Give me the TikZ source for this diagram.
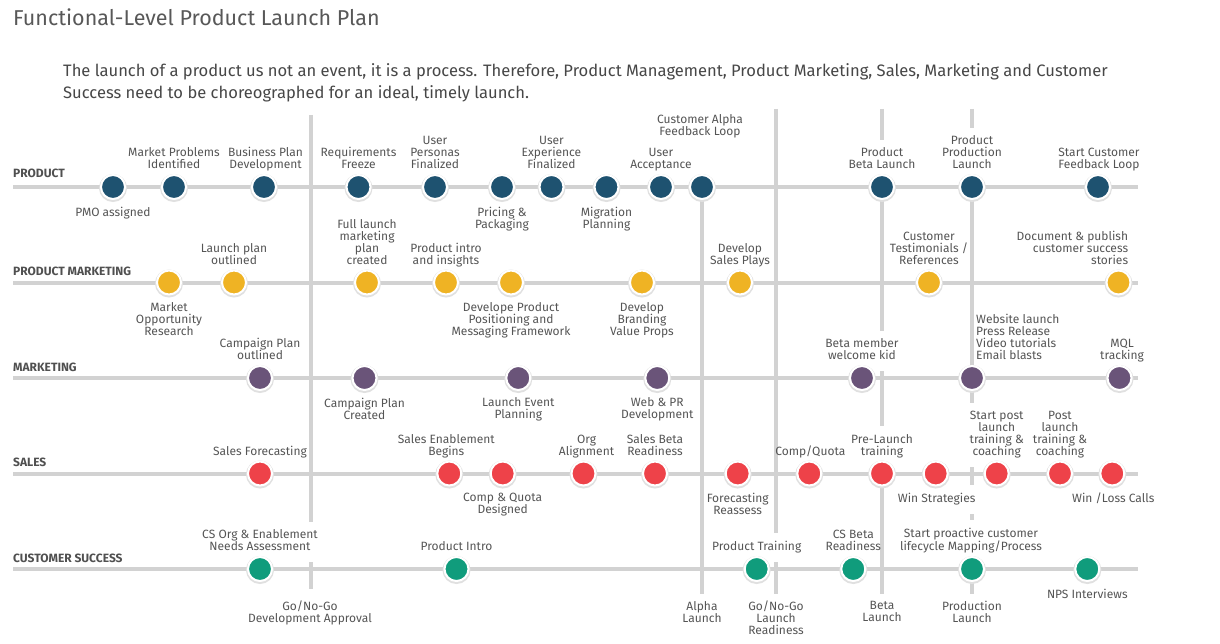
\documentclass[tikz,border=0pt]{standalone}
\usepackage{fontspec}
\setmainfont{Fira Sans}
\definecolor{prodc}{HTML}{1E5270}
\definecolor{pmc}{HTML}{EFB324}
\definecolor{mktc}{HTML}{6A5479}
\definecolor{salc}{HTML}{EE4249}
\definecolor{csc}{HTML}{109C7C}
\definecolor{lanec}{HTML}{D2D2D2}
\definecolor{labc}{HTML}{555555}
\definecolor{titc}{HTML}{585858}
\definecolor{subc}{HTML}{474747}
\definecolor{rowc}{HTML}{505050}
\newcommand{\labfont}{\fontsize{12}{12}\selectfont}
\begin{document}
\begin{tikzpicture}[x=1pt,y=-1pt,
  lane/.style={draw=lanec, line width=4pt},
  mile/.style={circle, minimum size=24pt, inner sep=0pt, line width=2pt, draw=white, fill=#1,
    preaction={draw=black!12, line width=4pt, transform canvas={yshift=-1pt}}},
  txt/.style={font=\labfont, text=labc, align=center, inner xsep=2pt, inner ysep=4pt,
    execute at begin node=\strut, execute at end node=\strut},
  gap/.style={fill=white, inner ysep=8pt},
  rowlab/.style={font=\fontsize{12}{14}\selectfont\bfseries, text=rowc, anchor=base west, inner sep=0pt},
]
\fill[white] (0,0) rectangle (1220,644);
\useasboundingbox (0,0) rectangle (1220,644);

% ---------- milestone coordinates ----------
\coordinate (p1) at (113,187);   \coordinate (p2) at (174,187);   \coordinate (p3) at (264,187);
\coordinate (p4) at (358.5,187); \coordinate (p5) at (435,187);   \coordinate (p6) at (502,187);
\coordinate (p7) at (551.5,187); \coordinate (p8) at (606.5,187); \coordinate (p9) at (661,187);
\coordinate (p10) at (702,187);  \coordinate (p11) at (882,187);  \coordinate (p12) at (972,187);
\coordinate (p13) at (1098,187);
\coordinate (q1) at (169,282.5); \coordinate (q2) at (234,282.5); \coordinate (q3) at (367,282.5);
\coordinate (q4) at (446,282.5); \coordinate (q5) at (511,282.5); \coordinate (q6) at (642,282.5);
\coordinate (q7) at (740,282.5); \coordinate (q8) at (929,282.5); \coordinate (q9) at (1118.5,282.5);
\coordinate (r1) at (260,378);   \coordinate (r2) at (364.5,378); \coordinate (r3) at (518.3,378);
\coordinate (r4) at (657.3,378); \coordinate (r5) at (862,378);   \coordinate (r6) at (972,378);
\coordinate (r7) at (1119.5,378);
\coordinate (s1) at (260,473.5);   \coordinate (s2) at (449.3,473.5); \coordinate (s3) at (502.7,473.5);
\coordinate (s4) at (583.5,473.5); \coordinate (s5) at (655,473.5);   \coordinate (s6) at (737.7,473.5);
\coordinate (s7) at (809.3,473.5); \coordinate (s8) at (882,473.5);   \coordinate (s9) at (935.7,473.5);
\coordinate (s10) at (996.7,473.5); \coordinate (s11) at (1060,473.5); \coordinate (s12) at (1112.3,473.5);
\coordinate (c1) at (260,569);   \coordinate (c2) at (456.5,569); \coordinate (c3) at (756.7,569);
\coordinate (c4) at (853.3,569); \coordinate (c5) at (972,569);   \coordinate (c6) at (1087.3,569);

% ---------- lanes ----------
\foreach \y [count=\i] in {187,282.5,378,473.5,569}{
  \coordinate (ls\i) at (13,\y); \coordinate (le\i) at (1138,\y);
  \draw[lane] (ls\i) -- (le\i);
}
% ---------- vertical gates ----------
\coordinate (v1t) at (311,115); \coordinate (v1b) at (311,589);
\coordinate (v2b) at (702,594);
\coordinate (v3t) at (776,109); \coordinate (v3b) at (776,594);
\coordinate (v4t) at (882,109); \coordinate (v4b) at (882,594);
\coordinate (v5t) at (972,109); \coordinate (v5b) at (972,594);
\draw[lane] (v1t) -- (v1b);
\draw[lane] (p10) -- (v2b);
\draw[lane] (v3t) -- (v3b);
\draw[lane] (v4t) -- (v4b);
\draw[lane] (v5t) -- (v5b);

% ---------- labels: product ----------
\node[txt, anchor=north] (lp1) at ([yshift=-15.6pt]p1) {PMO assigned};
\node[txt, anchor=south] (lp2) at ([yshift=10.4pt]p2) {Market Problems\\Identified};
\node[txt, anchor=south] (lp3) at ([xshift=1.5pt,yshift=10.4pt]p3) {Business Plan\\Development};
\node[txt, anchor=south] (lp4) at ([yshift=10.4pt]p4) {Requirements\\Freeze};
\node[txt, anchor=south] (lp5) at ([yshift=10.4pt]p5) {User\\Personas\\Finalized};
\node[txt, anchor=north] (lp6) at ([yshift=-15.6pt]p6) {Pricing \&\\Packaging};
\node[txt, anchor=south] (lp7) at ([yshift=10.4pt]p7) {User\\Experience\\Finalized};
\node[txt, anchor=north] (lp8) at ([yshift=-15.6pt]p8) {Migration\\Planning};
\node[txt, anchor=south] (lp9) at ([yshift=10.4pt]p9) {User\\Acceptance};
\node[txt, anchor=south] (lp10) at ([xshift=-2pt,yshift=43.4pt]p10) {Customer Alpha\\Feedback Loop};
\node[txt, gap, anchor=south] (lp11) at ([yshift=6.4pt]p11) {Product\\Beta Launch};
\node[txt, gap, anchor=south] (lp12) at ([yshift=6.4pt]p12) {Product\\Production\\Launch};
\node[txt, anchor=south] (lp13) at ([xshift=1pt,yshift=10.4pt]p13) {Start Customer\\Feedback Loop};
% ---------- labels: product marketing ----------
\node[txt, anchor=north] (lq1) at ([yshift=-15.6pt]q1) {Market\\Opportunity\\Research};
\node[txt, anchor=south] (lq2) at ([yshift=10.4pt]q2) {Launch plan\\outlined};
\node[txt, anchor=south] (lq3) at ([yshift=10.4pt]q3) {Full launch\\marketing\\plan\\created};
\node[txt, anchor=south] (lq4) at ([yshift=10.4pt]q4) {Product intro\\and insights};
\node[txt, anchor=north] (lq5) at ([yshift=-15.6pt]q5) {Develope Product\\Positioning and\\Messaging Framework};
\node[txt, anchor=north] (lq6) at ([yshift=-15.6pt]q6) {Develop\\Branding\\Value Props};
\node[txt, anchor=south] (lq7) at ([yshift=10.4pt]q7) {Develop\\Sales Plays};
\node[txt, anchor=south] (lq8) at ([yshift=10.4pt]q8) {Customer\\Testimonials /\\References};
\node[txt, align=right, anchor=south east] (lq9) at ([xshift=11.8pt,yshift=10.4pt]q9) {Document \& publish\\customer success\\stories};
% ---------- labels: marketing ----------
\node[txt, anchor=south] (lr1) at ([yshift=10.4pt]r1) {Campaign Plan\\outlined};
\node[txt, anchor=north] (lr2) at ([yshift=-15.6pt]r2) {Campaign Plan\\Created};
\node[txt, anchor=north] (lr3) at ([yshift=-15.6pt]r3) {Launch Event\\Planning};
\node[txt, anchor=north] (lr4) at ([yshift=-15.6pt]r4) {Web \& PR\\Development};
\node[txt, gap, anchor=south] (lr5) at ([yshift=6.4pt]r5) {Beta member\\welcome kid};
\node[txt, align=left, anchor=south west] (lr6) at ([xshift=2pt,yshift=10.4pt]r6) {Website launch\\Press Release\\Video tutorials\\Email blasts};
\node[txt, anchor=south] (lr7) at ([xshift=2.5pt,yshift=10.4pt]r7) {MQL\\tracking};
% ---------- labels: sales ----------
\node[txt, anchor=south] (ls1l) at ([yshift=10.4pt]s1) {Sales Forecasting};
\node[txt, anchor=south] (ls2l) at ([xshift=-3pt,yshift=10.4pt]s2) {Sales Enablement\\Begins};
\node[txt, anchor=north] (ls3l) at ([yshift=-15.6pt]s3) {Comp \& Quota\\Designed};
\node[txt, anchor=south] (ls4l) at ([xshift=3pt,yshift=10.4pt]s4) {Org\\Alignment};
\node[txt, anchor=south] (ls5l) at ([yshift=10.4pt]s5) {Sales Beta\\Readiness};
\node[txt, anchor=north] (ls6l) at ([yshift=-15.6pt]s6) {Forecasting\\Reassess};
\node[txt, anchor=south] (ls7l) at ([xshift=1pt,yshift=10.4pt]s7) {Comp/Quota};
\node[txt, gap, anchor=south] (ls8l) at ([yshift=6.4pt]s8) {Pre-Launch\\training};
\node[txt, gap, anchor=north] (ls9l) at ([xshift=1pt,yshift=-11.6pt]s9) {Win Strategies};
\node[txt, gap, anchor=south] (ls10l) at ([yshift=6.4pt]s10) {Start post\\launch\\training \&\\coaching};
\node[txt, anchor=south] (ls11l) at ([yshift=10.4pt]s11) {Post\\launch\\training \&\\coaching};
\node[txt, anchor=north] (ls12l) at ([xshift=1pt,yshift=-15.6pt]s12) {Win /Loss Calls};
% ---------- labels: customer success ----------
\node[txt, gap, anchor=south] (lc1) at ([yshift=6.4pt]c1) {CS Org \& Enablement\\Needs Assessment};
\node[txt, anchor=south] (lc2) at ([yshift=10.4pt]c2) {Product Intro};
\node[txt, gap, anchor=south] (lc3) at ([yshift=6.4pt]c3) {Product Training};
\node[txt, anchor=south] (lc4) at ([yshift=10.4pt]c4) {CS Beta\\Readiness};
\node[txt, gap, anchor=south] (lc5) at ([xshift=-1pt,yshift=6.4pt]c5) {Start proactive customer\\lifecycle Mapping/Process};
\node[txt, anchor=north] (lc6) at ([yshift=-15.6pt]c6) {NPS Interviews};
% ---------- gate labels ----------
\node[txt, anchor=north] (g1) at ([xshift=-1pt,yshift=-8pt]v1b) {Go/No-Go\\Development Approval};
\node[txt, anchor=north] (g2) at ([yshift=-3pt]v2b) {Alpha\\Launch};
\node[txt, anchor=north] (g3) at ([yshift=-3pt]v3b) {Go/No-Go\\Launch\\Readiness};
\node[txt, anchor=north] (g4) at ([yshift=-3pt]v4b) {Beta\\Launch};
\node[txt, anchor=north] (g5) at ([yshift=-3pt]v5b) {Production\\Launch};

% ---------- milestones ----------
\foreach \n in {p1,p2,p3,p4,p5,p6,p7,p8,p9,p10,p11,p12,p13}{\node[mile=prodc] (m\n) at (\n) {};}
\foreach \n in {q1,q2,q3,q4,q5,q6,q7,q8,q9}{\node[mile=pmc] (m\n) at (\n) {};}
\foreach \n in {r1,r2,r3,r4,r5,r6,r7}{\node[mile=mktc] (m\n) at (\n) {};}
\foreach \n in {s1,s2,s3,s4,s5,s6,s7,s8,s9,s10,s11,s12}{\node[mile=salc] (m\n) at (\n) {};}
\foreach \n in {c1,c2,c3,c4,c5,c6}{\node[mile=csc] (m\n) at (\n) {};}

% ---------- row labels ----------
\node[rowlab] (row1) at (13,177.5) {PRODUCT};
\node[rowlab] (row2) at (13,275.5) {PRODUCT MARKETING};
\node[rowlab] (row3) at (13,371) {MARKETING};
\node[rowlab] (row4) at (13,466.5) {SALES};
\node[rowlab] (row5) at (13,562.5) {CUSTOMER SUCCESS};

% ---------- title ----------
\node[anchor=base west, inner sep=0pt, font=\fontsize{21.5}{26}\selectfont, text=titc] (title) at (13,26) {Functional-Level Product Launch Plan};
\node[anchor=base west, inner sep=0pt, font=\fontsize{16.55}{22}\selectfont, text=subc] (sub1) at (63,76.5) {The launch of a product us not an event, it is a process. Therefore, Product Management, Product Marketing, Sales, Marketing and Customer};
\node[anchor=base west, inner sep=0pt, font=\fontsize{16.55}{22}\selectfont, text=subc] (sub2) at (63,98.5) {Success need to be choreographed for an ideal, timely launch.};
\end{tikzpicture}
\end{document}
